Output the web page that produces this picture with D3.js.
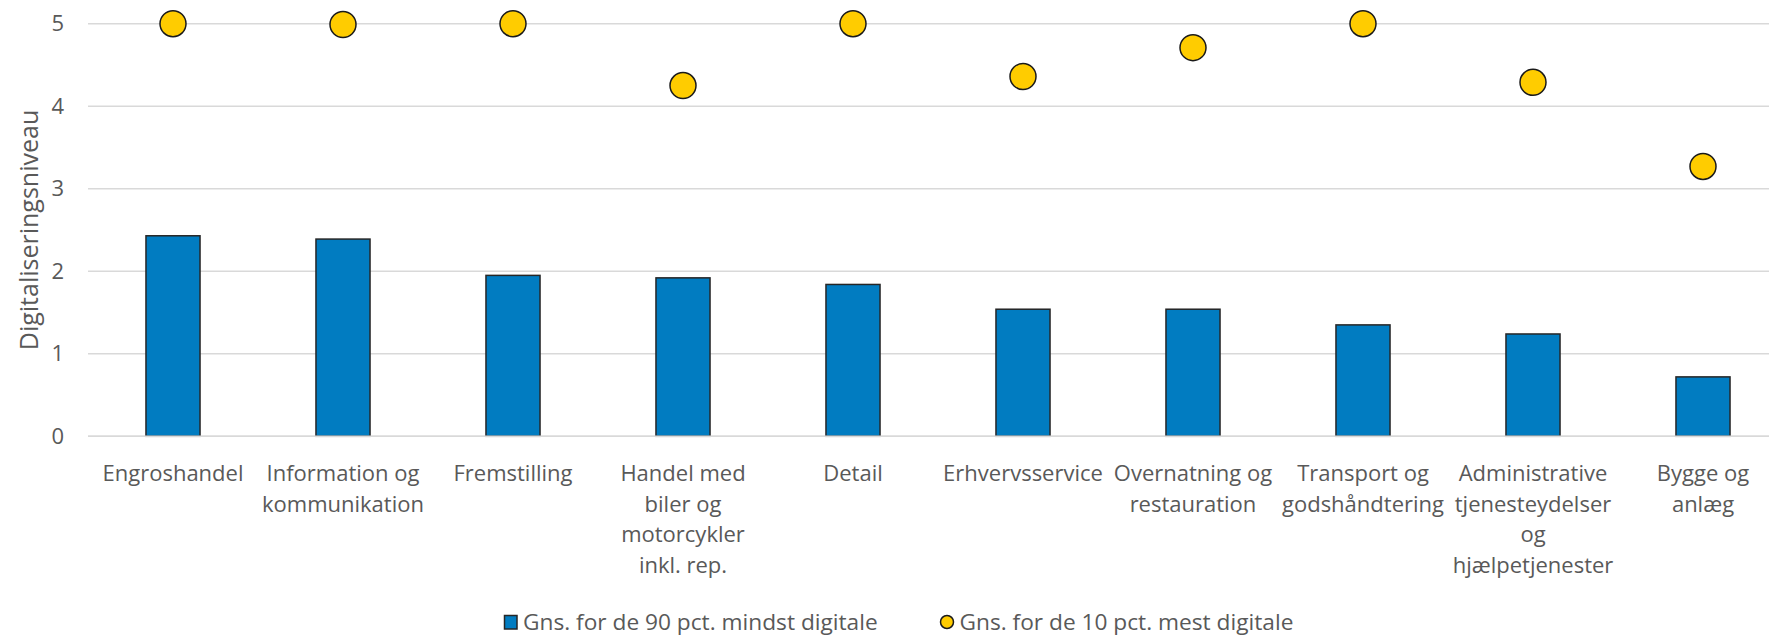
<!DOCTYPE html>
<html>
<head>
<meta charset="utf-8">
<script src="https://cdn.jsdelivr.net/npm/d3@7"></script>
<style>
  html, body { margin: 0; padding: 0; background: #ffffff; }
  svg { display: block; }
  text { font-family: "Open Sans", "Noto Sans", sans-serif; fill: #595959; }
</style>
</head>
<body>
<svg id="chart" width="1769" height="637"></svg>
<script>
const categories = [
  "Engroshandel",
  "Information og\nkommunikation",
  "Fremstilling",
  "Handel med\nbiler og\nmotorcykler\ninkl. rep.",
  "Detail",
  "Erhvervsservice",
  "Overnatning og\nrestauration",
  "Transport og\ngodshåndtering",
  "Administrative\ntjenesteydelser\nog\nhjælpetjenester",
  "Bygge og\nanlæg"
];
const seriesNames = ["Gns. for de 90 pct. mindst digitale", "Gns. for de 10 pct. mest digitale"];
const barValues = [2.43, 2.39, 1.95, 1.92, 1.84, 1.54, 1.54, 1.35, 1.24, 0.72];
const dotValues = [5.0, 4.99, 5.0, 4.25, 5.0, 4.36, 4.71, 5.0, 4.29, 3.27];
const yTicks = [0, 1, 2, 3, 4, 5];
const yTitle = "Digitaliseringsniveau";

const svg = d3.select("#chart");
const plotLeft = 88, plotRight = 1788, plotTop = 23.7, plotBottom = 436.3;

const x = d3.scaleBand().domain(categories).range([plotLeft, plotRight]).padding(0);
const y = d3.scaleLinear().domain([0, 5]).range([plotBottom, plotTop]);

// gridlines
svg.append("g").selectAll("line").data(yTicks).join("line")
  .attr("x1", plotLeft).attr("x2", plotRight)
  .attr("y1", d => y(d)).attr("y2", d => y(d))
  .attr("stroke", "#d9d9d9").attr("stroke-width", 1.5);

// y axis labels
const yAxis = d3.axisLeft(y).tickValues(yTicks).tickFormat(d3.format("d")).tickSize(0).tickPadding(0);
const yg = svg.append("g").attr("transform", `translate(64,0)`).call(yAxis);
yg.select(".domain").remove();
yg.selectAll("text").attr("font-size", 22).attr("fill", "#595959")
  .style("font-family", '"Open Sans", "Noto Sans", sans-serif');

// y title
svg.append("text")
  .attr("transform", `translate(38,${(plotTop + plotBottom) / 2}) rotate(-90)`)
  .attr("text-anchor", "middle")
  .attr("font-size", 25)
  .text(yTitle);

// bars
const bw = x.bandwidth() * 0.318;
svg.append("g").selectAll("rect").data(barValues).join("rect")
  .attr("x", (d, i) => x(categories[i]) + x.bandwidth() / 2 - bw / 2)
  .attr("y", d => y(d))
  .attr("width", bw)
  .attr("height", d => y(0) - y(d))
  .attr("fill", "#017cc1")
  .attr("stroke", "#262626").attr("stroke-width", 1.5);

// baseline over bars
svg.append("line").attr("x1", plotLeft).attr("x2", plotRight)
  .attr("y1", y(0)).attr("y2", y(0))
  .attr("stroke", "#d9d9d9").attr("stroke-width", 1.5);

// dots
svg.append("g").selectAll("circle").data(dotValues).join("circle")
  .attr("cx", (d, i) => x(categories[i]) + x.bandwidth() / 2)
  .attr("cy", d => y(d))
  .attr("r", 13)
  .attr("fill", "#ffcc00")
  .attr("stroke", "#1a1a1a").attr("stroke-width", 1.5);

// x labels
const xl = svg.append("g");
categories.forEach(c => {
  const t = xl.append("text")
    .attr("text-anchor", "middle")
    .attr("font-size", 22)
    .attr("x", x(c) + x.bandwidth() / 2)
    .attr("y", 481);
  c.split("\n").forEach((line, j) => {
    t.append("tspan").attr("x", x(c) + x.bandwidth() / 2)
      .attr("y", 481 + j * 30.5).text(line);
  });
});

// legend
const lg = svg.append("g");
lg.append("rect").attr("x", 504.5).attr("y", 615.5).attr("width", 12.5).attr("height", 13.5)
  .attr("fill", "#017cc1").attr("stroke", "#262626").attr("stroke-width", 1.5);
lg.append("text").attr("x", 523).attr("y", 630).attr("font-size", 22.7).text(seriesNames[0]);
lg.append("circle").attr("cx", 947).attr("cy", 622).attr("r", 6.5)
  .attr("fill", "#ffcc00").attr("stroke", "#1a1a1a").attr("stroke-width", 1.5);
lg.append("text").attr("x", 959.5).attr("y", 630).attr("font-size", 22.7).text(seriesNames[1]);
</script>
</body>
</html>
